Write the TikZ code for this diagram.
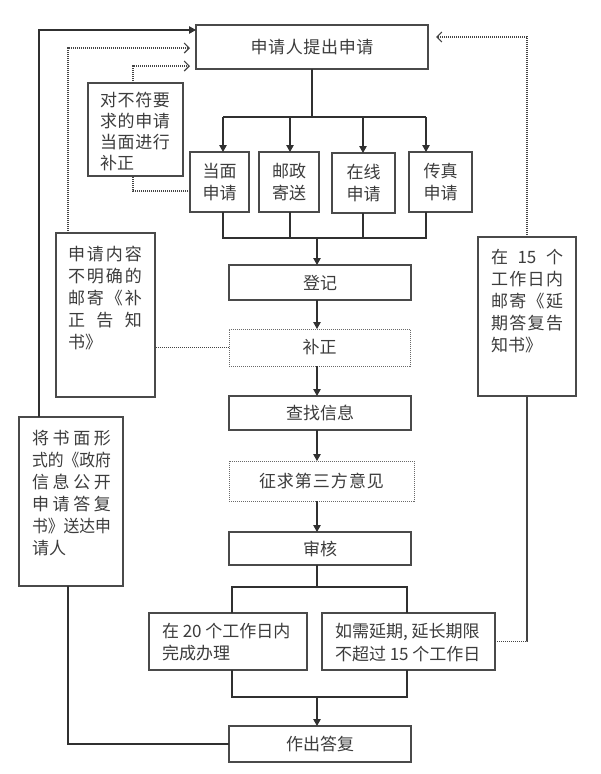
\documentclass[tikz,border=0pt]{standalone}
\usepackage{fontspec}
\setmainfont{Noto Sans CJK SC}
\usetikzlibrary{arrows.meta}
\definecolor{bordc}{HTML}{4A4A4A}
\definecolor{txtc}{HTML}{3C3C3C}
\definecolor{linec}{HTML}{303030}
\definecolor{dotc}{HTML}{444444}
\newcommand\jline[2]{\makebox[#1][s]{#2}}
\begin{document}
\begin{tikzpicture}[x=1pt,y=-1pt,
  every node/.style={inner sep=0pt,outer sep=0pt},
  font=\fontsize{17}{22}\selectfont,
  boxc/.style={draw=bordc, line width=1.1pt, anchor=north west, text=txtc, align=center},
  dotbox/.style={draw=dotc!80, line width=0.9pt, dash pattern=on 1pt off 1pt, anchor=north west, text=txtc},
  txt/.style={anchor=base west, text=txtc},
  conn/.style={draw=linec, line width=1.1pt},
  arr/.style={conn, -{Triangle[length=7pt,width=7.5pt]}},
  dotl/.style={draw=dotc, line width=1.2pt, dash pattern=on 1.1pt off 0.9pt},
  oarr/.style={dotl, -{Straight Barb[length=5pt,width=10pt,line width=1.1pt]}}
]
\fill[white] (0,0) rectangle (600,774);
\useasboundingbox (0,0) rectangle (600,774);

% boxes
\node[boxc, minimum width=232pt, minimum height=44pt] (top) at (196,25) {\jline{123pt}{申\hfill 请\hfill 人\hfill 提\hfill 出\hfill 申\hfill 请}};
\node[boxc, minimum width=95pt, minimum height=93pt] (fix) at (88,83) {};
\node[boxc, minimum width=59pt, minimum height=60pt] (b1) at (190,152) {当面\\申请};
\node[boxc, minimum width=60pt, minimum height=60pt] (b2) at (259,152) {邮政\\寄送};
\node[boxc, minimum width=63pt, minimum height=60pt] (b3) at (332,153) {在线\\申请};
\node[boxc, minimum width=63pt, minimum height=60pt] (b4) at (409,152) {传真\\申请};
\node[boxc, minimum width=182pt, minimum height=35pt] (reg) at (229,265) {登记};
\node[dotbox, minimum width=181pt, minimum height=37pt] (sup) at (229,329) {补正};
\node[boxc, minimum width=182pt, minimum height=34pt] (find) at (229,396) {查找信息};
\node[dotbox, minimum width=185pt, minimum height=40pt] (third) at (229,461) {\jline{125pt}{征\hfill 求\hfill 第\hfill 三\hfill 方\hfill 意\hfill 见}};
\node[boxc, minimum width=182pt, minimum height=33pt] (rev) at (229,532) {审核};
\node[boxc, minimum width=158pt, minimum height=57pt] (d20) at (149,613) {};
\node[boxc, minimum width=173pt, minimum height=57pt] (ext) at (322,613) {};
\node[boxc, minimum width=182pt, minimum height=36pt] (reply) at (229,726) {作出答复};
\node[boxc, minimum width=99pt, minimum height=164pt] (left1) at (56,233) {};
\node[boxc, minimum width=98pt, minimum height=159pt] (right1) at (478,237) {};
\node[boxc, minimum width=104pt, minimum height=169pt] (left2) at (19,417) {};

% texts of multi-line boxes
\node[txt] (fix1) at (100,106.5) {\jline{70pt}{对\hfill 不\hfill 符\hfill 要}};
\node[txt] (fix2) at (100,127.5) {\jline{70pt}{求\hfill 的\hfill 申\hfill 请}};
\node[txt] (fix3) at (100,148.5) {\jline{70pt}{当\hfill 面\hfill 进\hfill 行}};
\node[txt] (fix4) at (100,169.5) {补正};

\node[txt] (l11) at (68,260.5) {\jline{74pt}{申\hfill 请\hfill 内\hfill 容}};
\node[txt] (l12) at (68,282.5) {\jline{74pt}{不\hfill 明\hfill 确\hfill 的}};
\node[txt] (l13) at (68,304.5) {\jline{74pt}{邮\hfill 寄\hfill 《\hfill 补}};
\node[txt] (l14) at (68,326.5) {\jline{74pt}{正\hfill 告\hfill 知}};
\node[txt] (l15) at (68,348.5) {书》};

\node[txt] (r11) at (491,263.5) {\jline{72pt}{在\hfill 15\hfill 个}};
\node[txt] (r12) at (491,285.5) {\jline{72pt}{工\hfill 作\hfill 日\hfill 内}};
\node[txt] (r13) at (491,307.5) {\jline{72pt}{邮\hfill 寄\hfill 《\hfill 延}};
\node[txt] (r14) at (491,329.5) {\jline{72pt}{期\hfill 答\hfill 复\hfill 告}};
\node[txt] (r15) at (491,351.5) {知书》};

\node[txt] (l21) at (32,444.5) {\jline{79pt}{将\hfill 书\hfill 面\hfill 形}};
\node[txt] (l22) at (32,466.5) {\scalebox{0.93}[1]{式的《政府}};
\node[txt] (l23) at (32,488.5) {\jline{79pt}{信\hfill 息\hfill 公\hfill 开}};
\node[txt] (l24) at (32,510.5) {\jline{79pt}{申\hfill 请\hfill 答\hfill 复}};
\node[txt] (l25) at (32,532.5) {\scalebox{0.93}[1]{书》送达申}};
\node[txt] (l26) at (32,554.5) {请人};

\node[txt] (d1) at (162,637.5) {在 20 个工作日内};
\node[txt] (d2) at (162,659.5) {完成办理};
\node[txt] (e1) at (335,637.5) {如需延期, 延长期限};
\node[txt] (e2) at (335,660) {不超过 15 个工作日};

% main flow
\coordinate (j1) at (223,117); \coordinate (j2) at (290,117);
\coordinate (j3) at (363,117); \coordinate (j4) at (426,117);
\draw[conn] (top.south) -- (top.south |- j1);
\draw[conn] (j1) -- (j4);
\draw[arr] (j1) -- (j1 |- b1.north);
\draw[arr] (j2) -- (j2 |- b2.north);
\draw[arr] (j3) -- (j3 |- b3.north);
\draw[arr] (j4) -- (j4 |- b4.north);

\coordinate (m1) at (223,238); \coordinate (m2) at (290,238);
\coordinate (m3) at (363,238); \coordinate (m4) at (426,238);
\coordinate (mc) at (317,238);
\draw[conn] (m1 |- b1.south) -- (m1) -- (m4) -- (m4 |- b4.south);
\draw[conn] (m2 |- b2.south) -- (m2);
\draw[conn] (m3 |- b3.south) -- (m3);
\draw[arr] (mc) -- (mc |- reg.north);
\draw[arr] (mc |- reg.south) -- (mc |- sup.north);
\draw[arr] (mc |- sup.south) -- (mc |- find.north);
\draw[arr] (mc |- find.south) -- (mc |- third.north);
\draw[arr] (mc |- third.south) -- (mc |- rev.north);

\coordinate (k1) at (232,587); \coordinate (k2) at (407,587);
\draw[conn] (mc |- rev.south) -- (mc |- k1);
\draw[conn] (k1 |- d20.north) -- (k1) -- (k2) -- (k2 |- ext.north);
\coordinate (n1) at (232,697); \coordinate (n2) at (407,697);
\draw[conn] (n1 |- d20.south) -- (n1) -- (n2) -- (n2 |- ext.south);
\draw[arr] (mc |- n1) -- (mc |- reply.north);

% left solid return
\coordinate (lt) at (39,30);
\draw[arr] (lt |- left2.north) -- (lt) -- (lt -| top.west);
\coordinate (lb) at (68,744);
\draw[conn] (lb |- left2.south) |- (reply.west);

% dotted feedback
\coordinate (c2) at (190,48); \coordinate (c3) at (190,66); \coordinate (c4) at (436,37);
\coordinate (dx2) at (68,0); \coordinate (dx3) at (133,0);
\draw[oarr] (dx2 |- left1.north) |- (c2);
\draw[oarr] (dx3 |- fix.north) |- (c3);
\draw[dotl] ([yshift=-9pt]b1.west) -| (dx3 |- fix.south);
\draw[dotl] (sup.west) -- (sup.west -| left1.east);
\draw[dotl] (ext.east) -| (right1.south);
\draw[oarr] (right1.north) |- (c4);
\end{tikzpicture}
\end{document}
